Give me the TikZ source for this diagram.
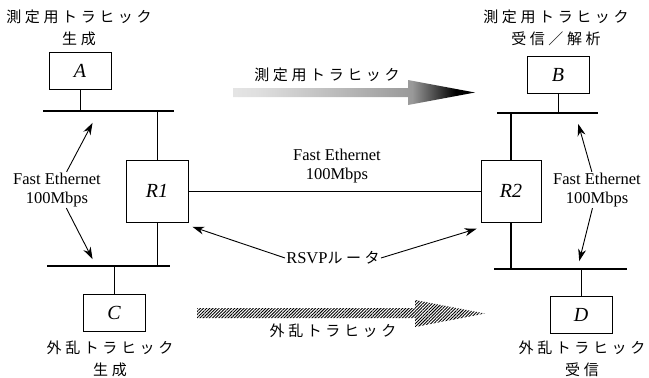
\documentclass[tikz,border=0pt]{standalone}
\usepackage{fontspec}
\setmainfont{Liberation Serif}
\newfontfamily\jp[LetterSpace=24]{Noto Sans CJK JP}
\usetikzlibrary{arrows.meta,calc,shapes,patterns.meta}
\pgfdeclarehorizontalshading{fadeR}{100bp}{color(0bp)=(white); color(30bp)=(gray!25); color(62bp)=(gray!80); color(71bp)=(black); color(100bp)=(black)}

\begin{document}
\begin{tikzpicture}[x=1pt,y=-1pt,>={Stealth[length=12pt,width=8pt]},thin,
	host/.style={draw,line width=0.9pt,minimum width=62pt,minimum height=37pt,inner sep=0pt,
		font=\fontsize{20}{20}\selectfont\itshape},
	router/.style={host,minimum height=62pt},
	bus/.style={line width=1.8pt},
	stem/.style={line width=0.9pt},
	note/.style={align=center,inner sep=1pt,font=\fontsize{16.5}{19}\selectfont},
	jnote/.style={align=center,inner sep=1pt,font=\fontsize{15}{22}\selectfont\jp},
	pointer/.style={->,line width=0.9pt,shorten >=1pt}]
	\useasboundingbox (0,0) rectangle (649,378);
	\node[host] (A) at (80,71) {A};
	\node[host] (B) at (558,75) {B};
	\node[host] (C) at (114,313) {C};
	\node[host] (D) at (581,315) {D};
	\node[router] (R1) at (157,191) {R1};
	\node[router,minimum width=60pt] (R2) at (511,191) {R2};
	
	\node[jnote] (genA) at (79,28) {測定用トラヒック\\生成};
	\node[jnote] (recvB) at (556,28) {測定用トラヒック\\受信／解析};
	\node[jnote] (genC) at (110,359) {外乱トラヒック\\生成};
	\node[jnote] (recvD) at (582,359) {外乱トラヒック\\受信};
	
	\coordinate (busAw) at (43,111);
	\coordinate (busAe) at (174,111);
	\coordinate (busCw) at (47,266);
	\coordinate (busCe) at (170,266);
	\coordinate (busBw) at (497,113);
	\coordinate (busBe) at (598,113);
	\coordinate (busDw) at (494,269);
	\coordinate (busDe) at (627,269);
	
	\draw[bus] (busAw) -- (busAe);
	\draw[bus] (busCw) -- (busCe);
	\draw[bus] (busBw) -- (busBe);
	\draw[bus] (busDw) -- (busDe);
	
	\draw[stem] (A) -- (A |- busAw);
	\draw[stem] (R1) -- (R1 |- busAw);
	\draw[stem] (R1) -- (R1 |- busCw);
	\draw[stem] (C) -- (C |- busCw);
	\draw[stem] (B) -- (B |- busBw);
	\draw[bus,line width=1.5pt] (R2) -- (R2 |- busBw);
	\draw[bus,line width=1.5pt] (R2) -- (R2 |- busDw);
	\draw[stem] (D) -- (D |- busDw);
	\draw[stem] (R1) -- (R2);
	
	\node[note] (link) at (337,166) {Fast Ethernet\\100Mbps};
	\node[note] (feL) at (57,190) {Fast Ethernet\\100Mbps};
	\node[note] (feR) at (597,190) {Fast Ethernet\\100Mbps};
	\node[note] (rsvp) at (333,258) {RSVP{\jp\fontsize{15}{15}\selectfont ルータ}};
	
	\coordinate (feAtip) at (93,122);
	\coordinate (feCtip) at (93,260);
	\coordinate (feBtip) at (578,123);
	\coordinate (feDtip) at (579,262);
	
	\draw[pointer] (feL) -- (feAtip);
	\draw[pointer] (feL) -- (feCtip);
	\draw[pointer] (feR) -- (feBtip);
	\draw[pointer] (feR) -- (feDtip);
	\draw[pointer] (rsvp.west) -- ($(R1.south east)+(3,4)$);
	\draw[pointer] (rsvp.east) -- ($(R2.south west)+(-3,6)$);
	
	\shade[shading=fadeR] (233,88) -- (408,88) -- (408,80) -- (475,92.5) -- (408,105)
		-- (408,97) -- (233,97) -- cycle;
	\node[jnote] (measure) at (327,75) {測定用トラヒック};
	\fill[pattern={Lines[angle=45,distance=2.2pt,line width=0.9pt]}] (197,308) -- (415,308)
		-- (415,300) -- (485,313.5) -- (415,327) -- (415,318) -- (197,318) -- cycle;
	\node[jnote] (noise) at (333,331) {外乱トラヒック};
\end{tikzpicture}
\end{document}
